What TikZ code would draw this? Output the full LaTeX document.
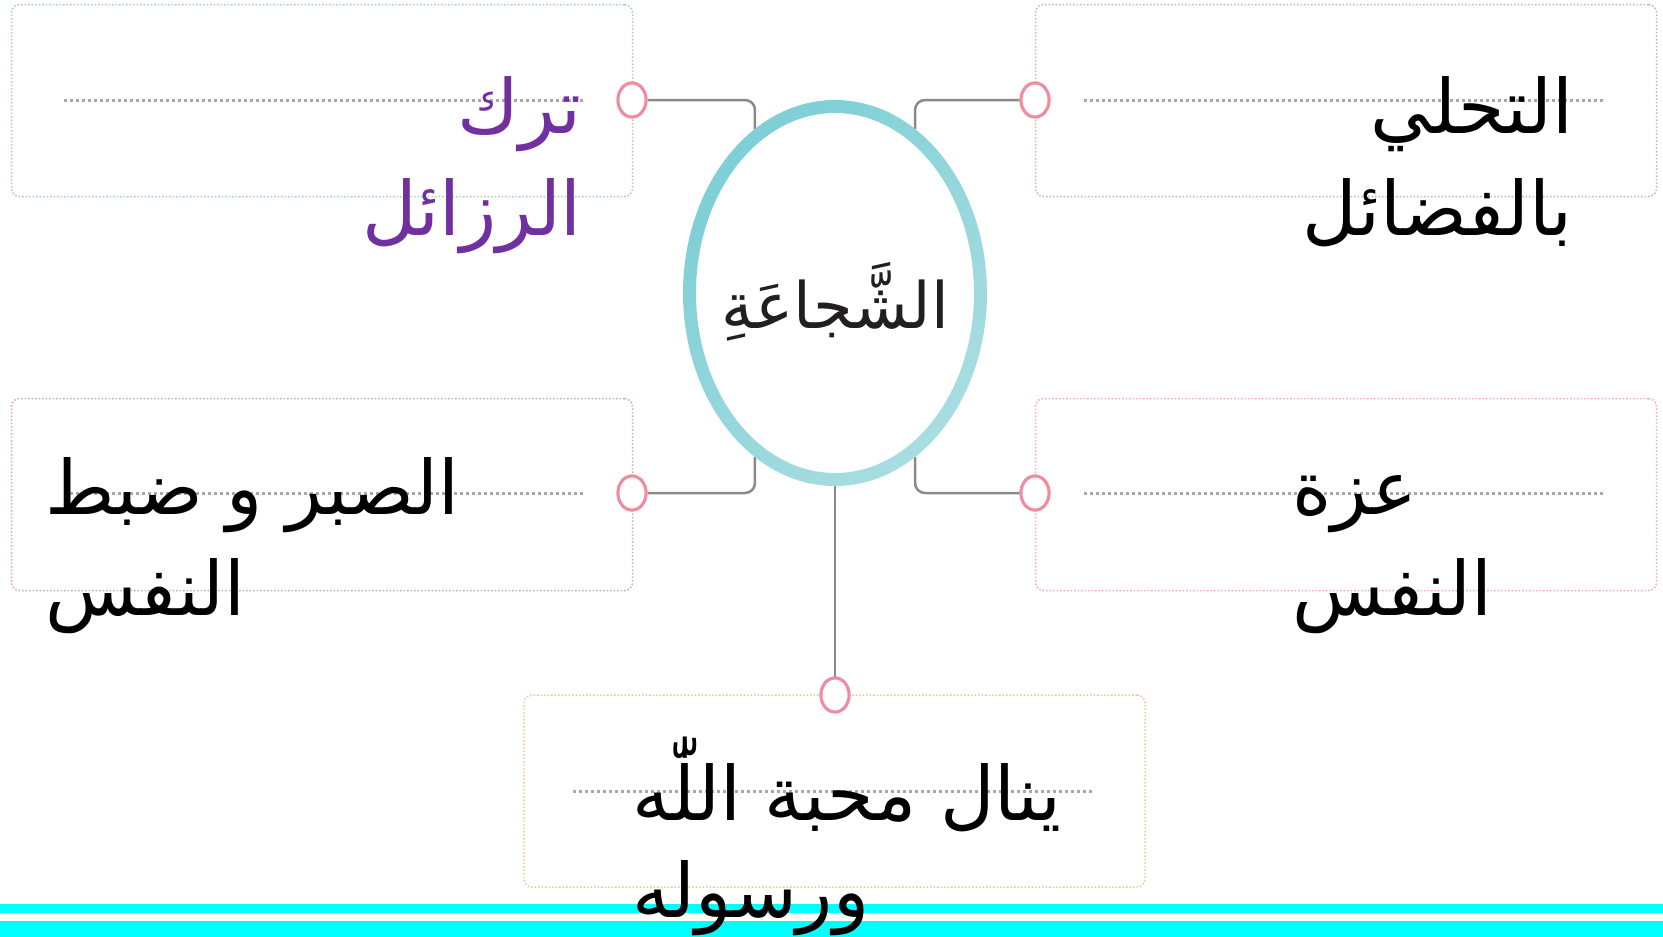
\documentclass[tikz,border=0pt]{standalone}
\usepackage{fontspec}
\usetikzlibrary{shapes.geometric}
\newfontfamily\arabicfont[Script=Arabic]{DejaVu Sans}
\TeXXeTstate=1
\definecolor{boxgreen}{HTML}{9FD49F}
\definecolor{boxtaupe}{HTML}{C5B5A5}
\definecolor{boxviolet}{HTML}{D5A0D5}
\definecolor{boxpink}{HTML}{F5A5C5}
\definecolor{boxorange}{HTML}{F9C48A}
\definecolor{pinkring}{HTML}{F08CA0}
\definecolor{conngray}{HTML}{8A8A8A}
\definecolor{dotgray}{HTML}{A8A8A8}
\definecolor{tealdark}{HTML}{7ECFD6}
\definecolor{teallight}{HTML}{A8DDE1}
\definecolor{purpletext}{HTML}{7030A0}
\definecolor{darktext}{HTML}{231F20}
\definecolor{cyanband}{HTML}{00FFFF}
\tikzset{
  topicbox/.style={rectangle, rounded corners=8pt, dotted, line width=1.5pt, minimum width=621pt, minimum height=192pt, inner sep=0pt},
  ring/.style={ellipse, draw=pinkring, line width=3pt, fill=white, minimum width=28pt, minimum height=34pt, inner sep=0pt},
  conn/.style={draw=conngray, line width=2.5pt, rounded corners=10pt},
  guide/.style={draw=dotgray, line width=3pt, dash pattern=on 2.5pt off 3.5pt},
  arlabel/.style={inner sep=0pt, font=\arabicfont\fontsize{75}{100}\selectfont},
  bigoval/.style={ellipse, line width=13pt, minimum width=291pt, minimum height=373pt, inner sep=0pt},
}
\begin{document}
\begin{tikzpicture}[x=1pt,y=-1pt]
\useasboundingbox (0,0) rectangle (1663,937);
% cyan bands
\fill[cyanband] (0,904) rectangle (1663,913);
\fill[cyanband] (0,921) rectangle (1663,937);
% boxes
\node[topicbox, draw=boxgreen] (b1) at (322,100.5) {};
\node[topicbox, draw=boxtaupe] (b2) at (1346,100.5) {};
\node[topicbox, draw=boxviolet] (b3) at (322,494.5) {};
\node[topicbox, draw=boxpink] (b4) at (1346,494.5) {};
\node[topicbox, draw=boxorange] (b5) at (834.5,791) {};
% dotted guide lines
\coordinate (g1a) at (64,100); \coordinate (g1b) at (583,100);
\coordinate (g2a) at (1084,100); \coordinate (g2b) at (1604,100);
\coordinate (g3a) at (64,493); \coordinate (g3b) at (583,493);
\coordinate (g4a) at (1084,493); \coordinate (g4b) at (1604,493);
\coordinate (g5a) at (573,791); \coordinate (g5b) at (1092,791);
\draw[guide] (g1a) -- (g1b);
\draw[guide] (g2a) -- (g2b);
\draw[guide] (g3a) -- (g3b);
\draw[guide] (g4a) -- (g4b);
\draw[guide] (g5a) -- (g5b);
% central ellipse (node for anchors)
\node[bigoval] (ell) at (835,293) {};
% rings
\node[ring] (c1) at (632,100) {};
\node[ring] (c2) at (1035,100) {};
\node[ring] (c3) at (632,493) {};
\node[ring] (c4) at (1035,493) {};
\node[ring] (c5) at (835,695) {};
% connectors
\draw[conn] (c1.east) -| (ell.116);
\draw[conn] (c2.west) -| (ell.64);
\draw[conn] (c3.east) -| (ell.244);
\draw[conn] (c4.west) -| (ell.296);
\draw[conn] (ell.south) -- (c5.north);
% ellipse ring with gradient, drawn over connector ends
\fill[white] (835,293) ellipse [x radius=140, y radius=181];
\shade[top color=tealdark, bottom color=teallight, shading angle=45, even odd rule]
  (835,293) ellipse [x radius=152, y radius=193]
  (835,293) ellipse [x radius=139, y radius=180];
% rings on top
\node[ring] (c1f) at (632,100) {};
\node[ring] (c2f) at (1035,100) {};
\node[ring] (c3f) at (632,493) {};
\node[ring] (c4f) at (1035,493) {};
\node[ring] (c5f) at (835,695) {};
% centre text
\node[inner sep=0pt, anchor=base, text=darktext, font=\arabicfont\fontsize{64}{80}\selectfont] (centre) at (835,328) {\beginR الشَّجاعَةِ\endR};
% labels
\node[arlabel, anchor=base east, text=purpletext] (t1a) at (582,133) {\beginR ترك\endR};
\node[arlabel, anchor=base east, text=purpletext] (t1b) at (582,235) {\beginR الرزائل\endR};
\node[arlabel, anchor=base east] (t2a) at (1573,133) {\beginR التحلي\endR};
\node[arlabel, anchor=base east] (t2b) at (1573,235) {\beginR بالفضائل\endR};
\node[arlabel, anchor=base west] (t3a) at (45,514) {\beginR الصبر و ضبط\endR};
\node[arlabel, anchor=base west] (t3b) at (45,615) {\beginR النفس\endR};
\node[arlabel, anchor=base west] (t4a) at (1292,514) {\beginR عزة\endR};
\node[arlabel, anchor=base west] (t4b) at (1292,615) {\beginR النفس\endR};
\node[arlabel, anchor=base west] (t5a) at (632,820) {\beginR ينال محبة اللّٰه\endR};
\node[arlabel, anchor=base west] (t5b) at (632,917) {\beginR ورسوله\endR};
\end{tikzpicture}
\end{document}
